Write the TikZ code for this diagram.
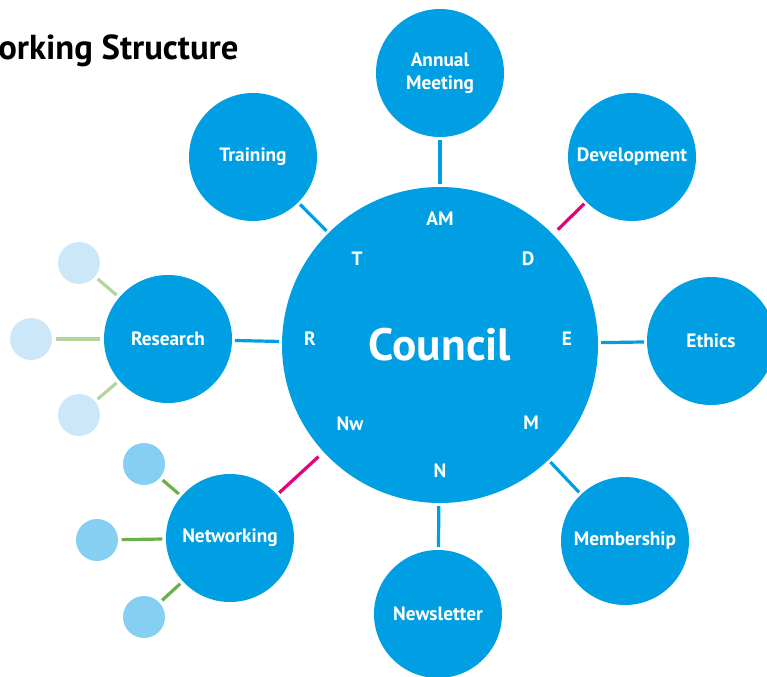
\documentclass[tikz,border=0pt]{standalone}
\usepackage{fontspec}
\setmainfont{PT Sans}
\definecolor{hubblue}{HTML}{009FE3}
\definecolor{hotpink}{HTML}{E6007E}
\definecolor{paleblue}{HTML}{CCE8F8}
\definecolor{midblue}{HTML}{85CFF2}
\definecolor{palegreen}{HTML}{B4D49E}
\definecolor{leafgreen}{HTML}{6AB04C}
\begin{document}
\begin{tikzpicture}[x=.75pt,y=-.75pt,
    hub/.style={circle,fill=hubblue,text=white,inner sep=0pt,minimum size=237pt,
      font=\bfseries\fontsize{34}{34}\selectfont},
    sat/.style={circle,fill=hubblue,text=white,inner sep=0pt,minimum size=96pt,
      align=center,font=\bfseries\fontsize{14.5}{17}\selectfont},
    tag/.style={text=white,inner sep=0pt,font=\bfseries\fontsize{14.5}{14.5}\selectfont},
    leafr/.style={circle,fill=paleblue,inner sep=0pt,minimum size=31.5pt},
    leafn/.style={circle,fill=midblue,inner sep=0pt,minimum size=31.5pt},
    link/.style={draw=hubblue,line width=2.4pt,shorten <=2pt,shorten >=2pt},
    pinklink/.style={draw=hotpink,line width=2.4pt,shorten <=2pt,shorten >=5pt},
    rlink/.style={draw=palegreen,line width=2.4pt,shorten <=2.5pt,shorten >=2.5pt},
    nlink/.style={draw=leafgreen,line width=2.4pt,shorten <=2.5pt,shorten >=2.5pt}]
    \useasboundingbox (0,0) rectangle (767,677);

    %% title (cut off at the left)
    \node (title) at (-2,51) [anchor=west,inner sep=0pt,font=\bfseries\fontsize{26}{26}\selectfont] {orking Structure};

    %% centre
    \node (council) at (440,345) [hub] {Council};
    \node (tAM) at (440,219) [tag] {AM};
    \node (tT) at (357,259) [tag] {T};
    \node (tD) at (528,259) [tag] {D};
    \node (tR) at (310,339) [tag] {R};
    \node (tE) at (567,339) [tag] {E};
    \node (tNw) at (350,424) [tag] {Nw};
    \node (tM) at (531,423) [tag] {M};
    \node (tN) at (440,471) [tag] {N};

    %% groups round the council
    \node (annual) at (440,73) [sat] {Annual\\Meeting};
    \node (training) at (253,157) [sat] {Training};
    \node (develop) at (632,157) [sat] {Development};
    \node (research) at (168,339) [sat] {Research};
    \node (ethics) at (711,341) [sat] {Ethics};
    \node (network) at (230,538) [sat] {Networking};
    \node (member) at (625,541) [sat] {Membership};
    \node (news) at (438,614) [sat] {Newsletter};

    %% small circles
    \node (r1) at (79,263) [leafr] {};
    \node (r2) at (31,339) [leafr] {};
    \node (r3) at (79,415) [leafr] {};
    \node (n1) at (144,464) [leafn] {};
    \node (n2) at (97,540) [leafn] {};
    \node (n3) at (144,617) [leafn] {};

    %% links
    \draw[link] (annual) -- (council);
    \draw[link] (training) -- (council);
    \draw[pinklink] (develop) -- (council);
    \draw[link] (research) -- (council);
    \draw[link] (ethics) -- (council);
    \draw[pinklink] (network) -- (council);
    \draw[link] (member) -- (council);
    \draw[link] (news) -- (council);

    \draw[rlink] (r1) -- (research);
    \draw[rlink] (r2) -- (research);
    \draw[rlink] (r3) -- (research);
    \draw[nlink] (n1) -- (network);
    \draw[nlink] (n2) -- (network);
    \draw[nlink] (n3) -- (network);
\end{tikzpicture}
\end{document}
